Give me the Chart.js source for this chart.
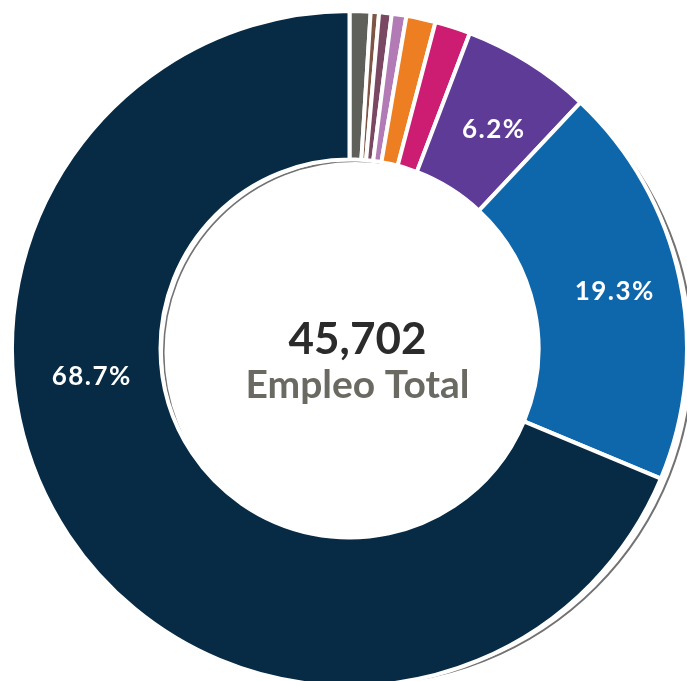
<!DOCTYPE html>
<html>
<head>
<meta charset="utf-8">
<script src="https://cdn.jsdelivr.net/npm/chart.js@4.4.0/dist/chart.umd.min.js"></script>
<style>
  html, body { margin: 0; padding: 0; background: #fff; overflow: hidden; }
  canvas { display: block; }
</style>
</head>
<body>
<canvas id="myChart" width="687" height="681"></canvas>
<script>
// sectores (porcentaje del empleo total)
var sectorLabels = ['Sector 1', 'Sector 2', 'Sector 3', 'Sector 4', 'Sector 5', 'Sector 6', 'Sector 7', 'Sector 8', 'Sector 9'];
var sectorValues = [1.0, 0.4, 0.6, 0.7, 1.4, 1.7, 6.2, 19.3, 68.7];
var sectorColors = ['#5e6059', '#7f5646', '#7a4862', '#b27bb6', '#ee7e22', '#cc1d72', '#5f3b98', '#0f67ab', '#072b45'];
// donde va la etiqueta dentro del sector (0 = inicio, 1 = fin) y desplazamiento radial
var labelPos = [0.5, 0.5, 0.5, 0.5, 0.5, 0.5, 0.56, 0.5, 0.611];
var labelShift = [0, 0, 0, 0, 0, 0, -1, 8, -4];

var totalText = '45,702';
var totalLabel = 'Empleo Total';

// linea gris de sombra detras del anillo
const shadowRing = {
    id: 'shadowRing',
    beforeDatasetsDraw(chart) {
        const arc = chart.getDatasetMeta(0).data[0];
        if (!arc) return;
        const ctx = chart.ctx;
        ctx.save();
        ctx.strokeStyle = '#727272';
        ctx.lineWidth = 2;
        ctx.beginPath();
        ctx.arc(arc.x + 13, arc.y + 5.3, arc.outerRadius - 7.2, 0, Math.PI * 2);
        ctx.stroke();
        ctx.lineWidth = 1.6;
        ctx.beginPath();
        ctx.arc(arc.x + 5.6, arc.y + 4, arc.innerRadius + 2.4, 0, Math.PI * 2);
        ctx.stroke();
        ctx.restore();
    }
};

// etiquetas de porcentaje y texto central
const sliceLabels = {
    id: 'sliceLabels',
    afterDatasetsDraw(chart) {
        const ctx = chart.ctx;
        const arcs = chart.getDatasetMeta(0).data;
        ctx.save();
        ctx.textAlign = 'center';
        ctx.textBaseline = 'middle';
        ctx.fillStyle = '#ffffff';
        ctx.font = 'bold 26px Lato';
        ctx.letterSpacing = '1.5px';
        arcs.forEach(function (a, i) {
            if (sectorValues[i] < 5) return;
            const ang = a.startAngle + (a.endAngle - a.startAngle) * labelPos[i];
            const r = (a.innerRadius + a.outerRadius) / 2 + labelShift[i];
            ctx.fillText(sectorValues[i].toFixed(1) + '%', a.x + Math.cos(ang) * r, a.y + Math.sin(ang) * r);
        });
        const c = arcs[0];
        ctx.letterSpacing = '0px';
        ctx.textBaseline = 'alphabetic';
        ctx.fillStyle = '#2b2b2b';
        ctx.font = 'bold 44px Lato';
        ctx.fillText(totalText, c.x + 8, c.y + 5);
        ctx.fillStyle = '#6b6a62';
        ctx.font = 'bold 39px Lato';
        ctx.fillText(totalLabel, c.x + 8, c.y + 49);
        ctx.restore();
    }
};

const data = {
    labels: sectorLabels,
    datasets: [{
        data: sectorValues,
        backgroundColor: sectorColors,
        borderColor: '#ffffff',
        borderWidth: 4,
        clip: false
    }]
};

const config = {
    type: 'doughnut',
    data: data,
    options: {
        responsive: false,
        animation: false,
        radius: 337.5,
        cutout: '56%',
        layout: {
            padding: { left: 12, top: 16 }
        },
        plugins: {
            legend: { display: false },
            tooltip: { enabled: false }
        }
    },
    plugins: [shadowRing, sliceLabels]
};

const myChart = new Chart(document.getElementById('myChart'), config);
</script>
</body>
</html>
